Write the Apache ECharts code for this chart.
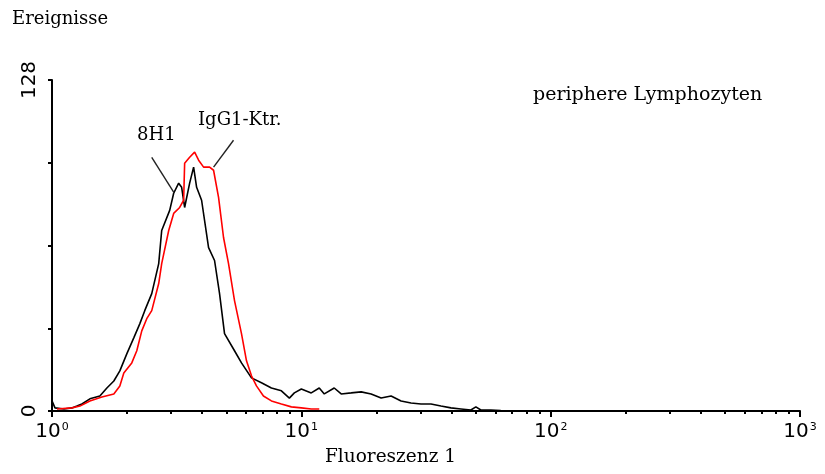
<!DOCTYPE html>
<html>
<head>
<meta charset="utf-8">
<script src="https://cdn.jsdelivr.net/npm/echarts@6/dist/echarts.min.js"></script>
<style>
  html, body { margin: 0; padding: 0; background: #fff; }
  #chart { width: 825px; height: 474px; }
</style>
</head>
<body>
<div id="chart"></div>
<script>
// fluorescence (log axis) and event counts
const fluorBlack = [1.00, 1.028, 1.117, 1.202, 1.259, 1.318, 1.419, 1.556, 1.660, 1.770, 1.871, 1.995, 2.128, 2.249, 2.355,
  2.512, 2.679, 2.754, 2.965, 3.076, 3.221, 3.311, 3.404, 3.565, 3.698, 3.802, 3.981, 4.246, 4.487, 4.699, 4.920,
  5.395, 5.754, 6.310, 6.918, 7.586, 8.318, 8.954, 9.376, 10.0, 10.96, 11.80, 12.36, 13.55, 14.45, 15.85, 17.38,
  19.05, 20.89, 22.91, 25.12, 27.54, 30.20, 33.11, 36.31, 39.81, 43.65, 47.86, 50.12, 52.48, 57.54, 63.10];
const countBlack = [3.9, 1.2, 0.8, 1.2, 1.9, 2.7, 4.7, 5.8, 8.9, 11.6, 15.5, 22.1, 28.3, 33.7, 38.8,
  45.4, 57.0, 69.8, 77.6, 84.2, 88.1, 86.5, 78.7, 88.1, 94.3, 86.5, 81.5, 63.2, 58.2, 45.4, 29.9,
  23.3, 18.6, 12.8, 10.9, 8.9, 7.8, 5.0, 7.0, 8.5, 7.0, 8.9, 6.6, 8.9, 6.6, 7.0, 7.4,
  6.6, 5.0, 5.8, 3.9, 3.1, 2.7, 2.7, 1.9, 1.2, 0.8, 0.4, 1.6, 0.4, 0.4, 0.2];

const fluorRed = [1.047, 1.202, 1.294, 1.419, 1.585, 1.770, 1.871, 1.941, 2.089, 2.188, 2.291, 2.399, 2.512,
  2.679, 2.754, 2.938, 3.076, 3.251, 3.373, 3.404, 3.565, 3.733, 3.873, 4.055, 4.285, 4.446, 4.656, 4.875,
  5.105, 5.395, 5.754, 6.026, 6.310, 6.607, 7.047, 7.586, 8.318, 9.120, 10.0, 10.96, 11.80];
const countRed = [0.8, 1.2, 1.9, 3.9, 5.4, 6.6, 9.7, 14.7, 18.6, 23.3, 31.0, 35.7, 38.8,
  49.3, 57.0, 69.8, 76.4, 78.7, 81.5, 95.8, 98.1, 100.1, 97.0, 94.3, 94.3, 93.1, 82.6, 67.1,
  57.0, 42.7, 29.9, 19.4, 13.6, 9.7, 5.8, 3.9, 2.7, 1.6, 1.2, 0.8, 0.8];

const decadeTicks = [1, 10, 100, 1000];
const minorTicks = [2, 3, 4, 5, 6, 7, 8, 9, 20, 30, 40, 50, 60, 70, 80, 90, 200, 300, 400, 500, 600, 700, 800, 900];
const yLabels = [0, 128];

// leader lines for the two labels: [fluor, count] at both ends
const leader8H1 = [[2.512, 98.1], [3.076, 84.6]];
const leaderIgG = [[5.346, 104.7], [4.446, 94.3]];

const chart = echarts.init(document.getElementById('chart'));
const serif = '"DejaVu Serif", serif';

const option = {
  animation: false,
  grid: { left: 52, right: 25, top: 80, bottom: 63 },
  xAxis: [
    {
      type: 'log', logBase: 10, min: 1, max: 1000,
      axisLine: { lineStyle: { color: '#000', width: 2 } },
      axisTick: { customValues: decadeTicks, length: 6, lineStyle: { color: '#000', width: 2 } },
      axisLabel: {
        customValues: decadeTicks,
        margin: 10,
        color: '#000',
        formatter: (v) => '{b|10}{s|' + Math.round(Math.log10(v)) + '}',
        rich: {
          b: { fontFamily: '"DejaVu Sans"', fontSize: 20, color: '#000', lineHeight: 22 },
          s: { fontFamily: '"DejaVu Sans"', fontSize: 11, color: '#000', padding: [0, 0, 10, 1] }
        }
      },
      splitLine: { show: false }
    },
    {
      type: 'log', logBase: 10, min: 1, max: 1000, position: 'bottom',
      axisLine: { show: false },
      axisTick: { customValues: minorTicks, length: 3, lineStyle: { color: '#000', width: 2 } },
      axisLabel: { show: false },
      splitLine: { show: false }
    }
  ],
  yAxis: {
    type: 'value', min: 0, max: 128, interval: 32,
    axisLine: { show: true, lineStyle: { color: '#000', width: 2 } },
    axisTick: { show: true, length: 4, lineStyle: { color: '#000', width: 2 } },
    axisLabel: {
      rotate: 90,
      margin: 12,
      fontFamily: '"DejaVu Sans"',
      fontSize: 20,
      color: '#000',
      formatter: (v) => yLabels.includes(v) ? String(v) : ''
    },
    splitLine: { show: false }
  },
  series: [
    {
      name: '8H1', type: 'line', xAxisIndex: 0, symbol: 'none',
      data: fluorBlack.map((f, i) => [f, countBlack[i]]),
      lineStyle: { color: '#000', width: 1.6 },
      markLine: {
        silent: true, symbol: 'none', label: { show: false },
        lineStyle: { color: '#222', width: 1.4, type: 'solid' },
        data: [
          [{ coord: leader8H1[0] }, { coord: leader8H1[1] }],
          [{ coord: leaderIgG[0] }, { coord: leaderIgG[1] }]
        ]
      }
    },
    {
      name: 'IgG1-Ktr.', type: 'line', xAxisIndex: 0, symbol: 'none',
      data: fluorRed.map((f, i) => [f, countRed[i]]),
      lineStyle: { color: '#ff0000', width: 1.6 }
    }
  ],
  graphic: [
    { type: 'text', left: 12, top: 10, style: { text: 'Ereignisse', font: '18px ' + serif, fill: '#000' } },
    { type: 'text', left: 533, top: 86, style: { text: 'periphere Lymphozyten', font: '19px ' + serif, fill: '#000' } },
    { type: 'text', left: 137, top: 126, style: { text: '8H1', font: '18px ' + serif, fill: '#000' } },
    { type: 'text', left: 198, top: 111, style: { text: 'IgG1-Ktr.', font: '18px ' + serif, fill: '#000' } },
    { type: 'text', left: 325, top: 448, style: { text: 'Fluoreszenz 1', font: '18.5px ' + serif, fill: '#000' } }
  ]
};

chart.setOption(option);
</script>
</body>
</html>
